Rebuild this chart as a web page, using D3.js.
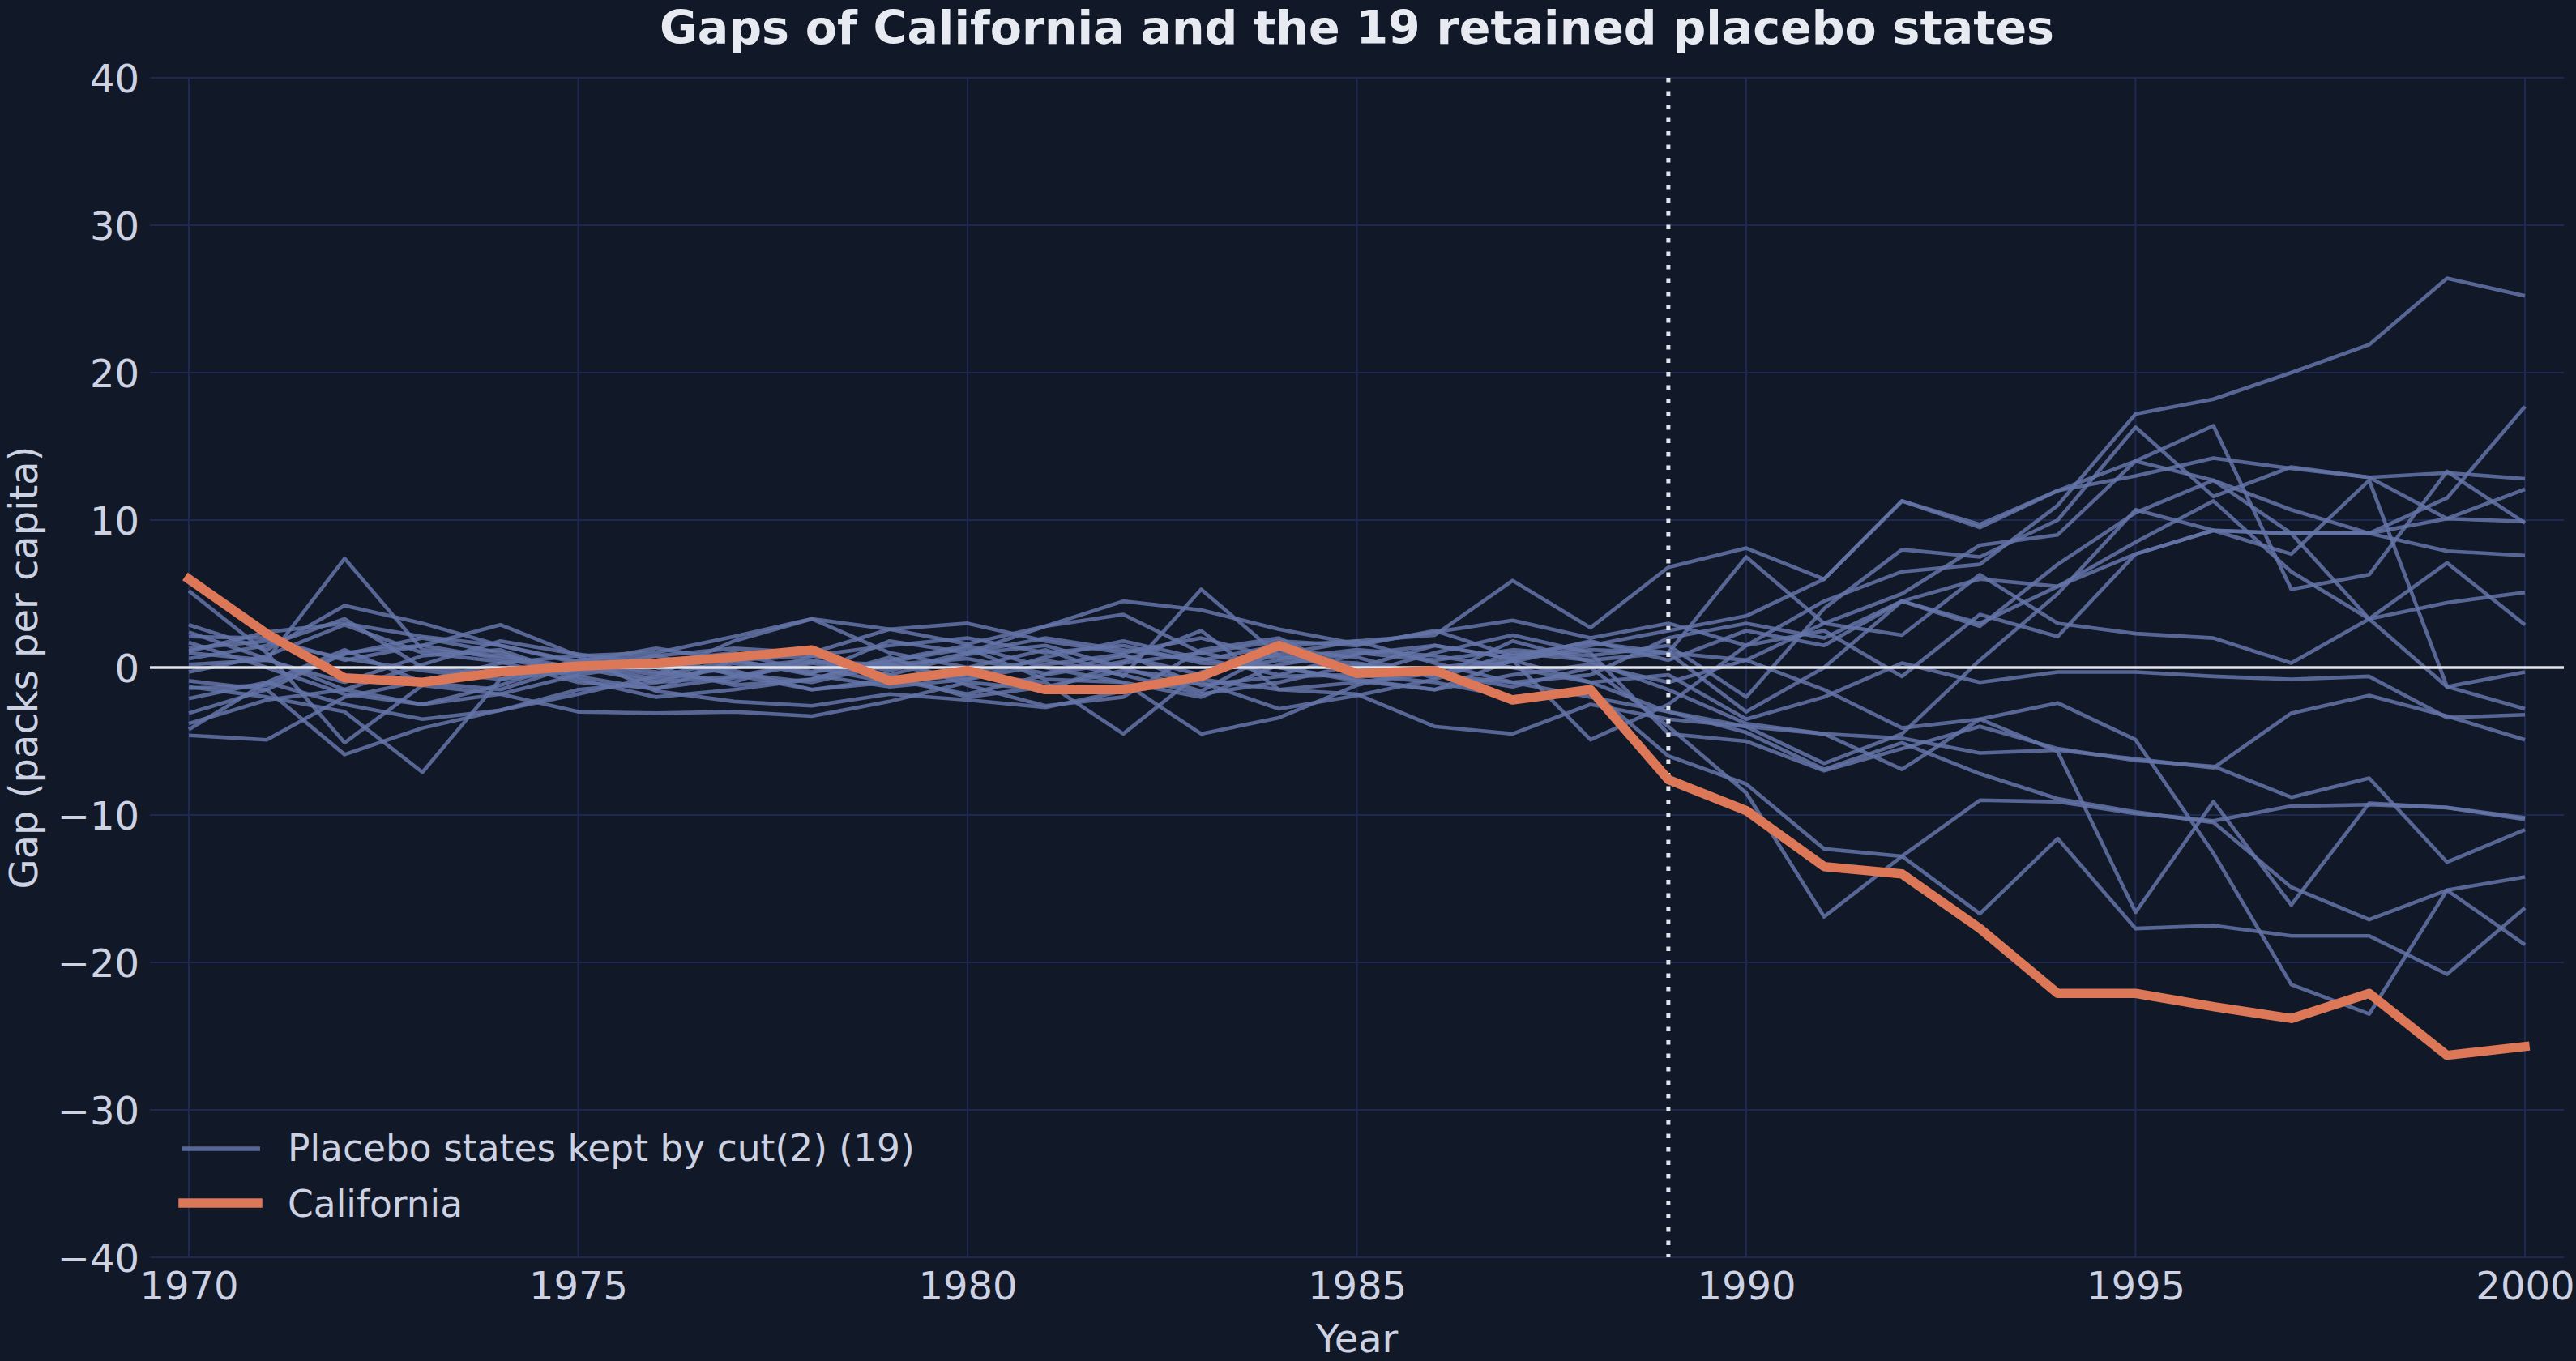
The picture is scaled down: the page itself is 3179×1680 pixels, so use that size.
<!DOCTYPE html>
<html><head><meta charset="utf-8">
<script src="https://cdn.jsdelivr.net/npm/d3@7"></script>
<style>html,body{margin:0;padding:0;background:#111827;}svg{display:block;}</style>
</head><body><svg id="chart" width="3179" height="1680"></svg>
<script>
const years = d3.range(1970, 2001);
const treatmentYear = 1989;
const xTicks = [1970, 1975, 1980, 1985, 1990, 1995, 2000];
const yTicks = [-40, -30, -20, -10, 0, 10, 20, 30, 40];
const titleText = "Gaps of California and the 19 retained placebo states";
const xLabel = "Year";
const yLabel = "Gap (packs per capita)";
const legendLabels = ["Placebo states kept by cut(2) (19)", "California"];

const california = [6.0, 2.3, -0.7, -1.0, -0.3, 0.1, 0.3, 0.7, 1.2, -0.9, -0.2, -1.5, -1.5, -0.6, 1.5, -0.4, -0.2, -2.2, -1.5, -7.6, -9.7, -13.5, -14.0, -17.7, -22.1, -22.1, -23.0, -23.8, -22.1, -26.3, -25.7];

const p01 = [2.9, 1.2, 4.2, 3.0, 1.5, 0.3, -0.5, 1.8, 3.3, 2.6, 1.6, 2.8, 4.5, 3.9, 2.6, 1.6, 2.4, 3.2, 2.0, 3.0, 1.5, 4.5, 6.5, 7.0, 11.0, 17.2, 18.2, 20.0, 21.9, 26.4, 25.2];
const p02 = [1.0, 0.5, -1.0, 0.8, 1.2, -0.6, -1.5, 0.5, 0.8, -0.2, 1.0, 2.0, 1.2, 0.5, 1.5, 1.8, 2.2, 5.9, 2.7, 6.8, 8.1, 6.0, 11.3, 9.7, 12.0, 13.0, 14.2, 13.5, 12.9, 13.2, 12.8];
const p03 = [0.2, 0.5, 7.4, 1.2, 0.8, 0.0, -1.0, -0.6, 0.4, 0.2, -0.8, 0.7, 1.8, 0.6, -0.5, 0.9, 1.5, 0.6, 1.2, 1.0, 7.5, 3.0, 5.0, 8.3, 9.0, 14.0, 16.4, 5.3, 6.3, 13.3, 9.8];
const p04 = [-1.3, -2.0, -3.0, -7.1, -0.8, 0.5, 0.0, -1.2, -0.8, 0.5, 1.5, 0.0, -1.0, -2.0, 0.2, 1.0, 0.5, 1.2, 0.8, 1.5, -2.0, 4.0, 8.0, 7.5, 10.0, 16.3, 11.6, 13.6, 12.9, 10.1, 12.1];
const p05 = [-0.9, -1.5, -5.9, -4.1, -2.9, -1.5, -1.0, 0.3, 0.0, -1.0, -0.3, 0.5, -0.5, -1.8, -1.0, 0.2, -0.4, 0.4, 1.5, 2.5, 3.5, 6.0, 11.3, 9.5, 12.0, 14.0, 12.7, 9.1, 9.1, 11.5, 17.7];
const p06 = [5.2, 1.0, -5.1, -1.2, -1.8, -0.5, 0.3, -0.4, -1.0, 0.2, 0.6, -0.4, 0.8, -0.5, 0.9, 1.8, 0.3, -1.0, -0.5, 2.0, 3.0, 2.0, 4.5, 2.8, 7.0, 10.5, 12.7, 10.7, 9.1, 7.9, 7.6];
const p07 = [-4.6, -4.9, -2.0, -0.9, 0.3, 0.8, -1.6, -2.3, -2.6, -1.8, -2.2, -2.7, -1.6, -1.0, -2.8, -1.9, -0.8, 1.0, 0.5, 1.0, -3.0, 0.0, 4.5, 6.0, 5.5, 8.5, 11.3, 6.5, 3.3, 4.4, 5.1];
const p08 = [-3.8, -2.2, -1.5, -2.5, -1.8, -3.0, -3.1, -3.0, -3.3, -2.3, -1.0, -1.5, 0.3, 1.0, 0.0, -0.8, -1.5, -0.5, 0.2, -1.0, 0.5, 3.0, 2.2, 6.3, 3.0, 2.3, 2.0, 0.3, 3.3, 7.1, 2.9];
const p09 = [2.1, 2.0, 0.5, 1.5, 2.9, 0.8, 1.0, 2.1, 3.3, 1.0, 0.0, 1.2, -0.6, 5.3, 0.8, 0.0, 1.5, 0.6, 1.8, 0.5, 2.5, 1.5, 4.5, 3.0, 5.5, 7.7, 9.3, 7.7, 12.7, -1.3, -0.3];
const p10 = [1.7, 0.0, -1.8, -2.5, -1.2, 0.5, 0.8, -0.5, -1.5, -1.0, -0.5, -1.0, -4.5, -0.3, 0.5, 0.3, -0.5, -1.0, -2.0, -3.0, -4.0, -6.5, -4.5, 0.5, 5.0, 10.7, 9.3, 9.1, 3.3, -1.3, -2.8];
const p11 = [1.3, 1.8, 0.6, -0.2, -0.8, -0.2, 0.4, 1.0, -0.3, 0.4, 1.3, -0.8, -1.0, -4.5, -3.4, -1.2, 0.0, 0.5, -1.0, -0.5, -3.5, -2.0, 0.3, -1.0, -0.3, -0.3, -0.6, -0.8, -0.6, -3.4, -3.2];
const p12 = [-2.1, -1.0, 1.2, -1.0, -1.5, 0.2, -0.8, 0.0, 0.5, -0.5, -2.0, -1.3, -0.2, -0.8, -1.5, -1.8, -4.0, -4.5, -2.5, -3.5, -4.0, -4.5, -4.8, -5.8, -5.6, -6.2, -6.8, -3.1, -1.9, -3.3, -4.9];
const p13 = [0.6, 1.5, 3.3, 0.0, -0.5, 0.4, -0.3, -1.0, 0.8, 1.5, 2.0, 1.0, 1.5, 0.3, 0.0, -0.9, -1.5, 0.5, -4.9, -2.5, 1.5, 2.5, -0.6, 3.6, 2.1, 7.7, 9.3, 9.1, 9.1, 10.1, 9.9];
const p14 = [-0.3, 0.8, 2.9, 1.0, 0.4, -1.0, -1.4, -0.7, 0.3, -0.5, 0.9, 1.5, 0.0, -1.6, 1.2, 0.7, -0.7, 1.8, 0.4, -1.5, -3.8, -4.5, -6.9, -3.5, -5.7, -16.6, -9.1, -16.1, -9.2, -9.5, -10.3];
const p15 = [-1.4, -1.2, 0.9, 2.0, 1.0, -0.8, -2.0, -1.5, -0.8, 0.7, -1.2, -2.6, -2.0, 1.2, 2.0, -0.5, 1.0, 2.2, 1.0, -4.5, -5.0, -7.0, -5.5, -4.0, -5.5, -6.3, -6.7, -8.8, -7.5, -13.2, -11.0];
const p16 = [-3.1, -1.5, 1.0, 1.5, 0.6, -0.3, 0.8, 1.3, 1.0, 2.6, 3.0, 1.8, 1.0, 2.0, 0.6, 1.2, 0.8, 0.0, -1.0, -3.0, -4.4, -6.9, -5.1, -7.2, -8.9, -9.8, -10.5, -14.9, -17.1, -15.1, -14.2];
const p17 = [1.1, 2.4, 3.0, 2.1, 1.5, 0.4, 1.3, 0.5, -0.4, 1.8, 1.0, 2.8, 3.6, 1.0, 1.8, 1.5, 2.5, 0.8, 1.7, 1.0, 0.5, -1.5, -4.1, -3.5, -2.4, -4.9, -12.6, -21.5, -23.5, -15.1, -18.8];
const p18 = [-4.2, -1.0, -2.5, -3.5, -2.9, -1.8, -0.6, 0.5, -0.5, -1.3, -0.8, 0.2, 0.9, -1.2, -0.6, -0.5, -1.0, -2.0, -1.5, -6.0, -7.9, -12.3, -12.8, -16.7, -11.6, -17.7, -17.5, -18.2, -18.2, -20.8, -16.3];
const p19 = [2.4, 0.6, -1.5, 0.2, 1.8, 0.9, 0.2, -0.2, -1.5, -0.8, -1.8, -0.5, 0.4, 2.5, -1.5, -1.0, -0.4, -1.3, 0.0, -4.0, -8.5, -16.9, -12.8, -9.0, -9.1, -9.9, -10.4, -9.4, -9.3, -9.5, -10.2];
const placebos = [p01, p02, p03, p04, p05, p06, p07, p08, p09, p10, p11, p12, p13, p14, p15, p16, p17, p18, p19];

const C = {bg: "#111827", grid: "#1d2950", text: "#cdd2e3", title: "#e8eaf2", zero: "#e2e5ee",
  placebo: "#6474a8", ca: "#dc7857"};

const svg = d3.select("#chart");
svg.append("rect").attr("width", 3179).attr("height", 1680).attr("fill", C.bg);

const x = d3.scaleLinear().domain([1969.5, 2000.5]).range([185, 3164]);
const y = d3.scaleLinear().domain([-40, 40]).range([1552, 96]);

// grid
const grid = svg.append("g");
grid.selectAll("line.h").data(yTicks).join("line")
  .attr("x1", x.range()[0]).attr("x2", x.range()[1])
  .attr("y1", d => y(d)).attr("y2", d => y(d))
  .attr("stroke", C.grid).attr("stroke-width", 2.2);
grid.selectAll("line.v").data(xTicks).join("line")
  .attr("x1", d => x(d)).attr("x2", d => x(d))
  .attr("y1", y.range()[0]).attr("y2", y.range()[1])
  .attr("stroke", C.grid).attr("stroke-width", 2.2);

// axes (labels only)
const yAxis = d3.axisLeft(y).tickValues(yTicks).tickSize(0).tickPadding(13)
  .tickFormat(d => (d < 0 ? "\u2212" + Math.abs(d) : String(d)));
const gy = svg.append("g").attr("transform", `translate(${x.range()[0]},0)`).call(yAxis);
gy.select(".domain").remove();
gy.selectAll("text").attr("fill", C.text).attr("font-family", "DejaVu Sans").attr("font-size", 48).attr("dy", "0.36em");

const xAxis = d3.axisBottom(x).tickValues(xTicks).tickSize(0).tickPadding(16).tickFormat(d3.format("d"));
const gx = svg.append("g").attr("transform", `translate(0,${y.range()[0]})`).call(xAxis);
gx.select(".domain").remove();
gx.selectAll("text").attr("fill", C.text).attr("font-family", "DejaVu Sans").attr("font-size", 48).attr("dy", "0.76em");

const line = d3.line().x((d, i) => x(years[i])).y(d => y(d));

// placebo lines
svg.append("g").selectAll("path").data(placebos).join("path")
  .attr("d", line).attr("fill", "none").attr("stroke", C.placebo)
  .attr("stroke-opacity", 0.85).attr("stroke-width", 4.6).attr("stroke-linejoin", "round");

// zero line
svg.append("line").attr("x1", x.range()[0]).attr("x2", x.range()[1])
  .attr("y1", y(0)).attr("y2", y(0)).attr("stroke", C.zero).attr("stroke-width", 3.5);

// treatment line
svg.append("line").attr("x1", x(treatmentYear)).attr("x2", x(treatmentYear))
  .attr("y1", y.range()[1]).attr("y2", y.range()[0])
  .attr("stroke", C.zero).attr("stroke-width", 5).attr("stroke-dasharray", "5.5,11");

// California
svg.append("path").datum(california).attr("d", line).attr("fill", "none")
  .attr("stroke", C.ca).attr("stroke-width", 11.5).attr("stroke-linejoin", "round").attr("stroke-linecap", "square");

// title & labels
svg.append("text").attr("x", 1674.5).attr("y", 54).attr("text-anchor", "middle")
  .attr("font-family", "DejaVu Sans").attr("font-weight", "bold").attr("font-size", 57)
  .attr("fill", C.title).text(titleText);
svg.append("text").attr("x", 1674.5).attr("y", 1669).attr("text-anchor", "middle")
  .attr("font-family", "DejaVu Sans").attr("font-size", 48).attr("fill", C.text).text(xLabel);
svg.append("text").attr("transform", "translate(46,824) rotate(-90)").attr("text-anchor", "middle")
  .attr("font-family", "DejaVu Sans").attr("font-size", 48).attr("fill", C.text).text(yLabel);

// legend
const leg = svg.append("g");
leg.append("line").attr("x1", 224).attr("x2", 321).attr("y1", 1418).attr("y2", 1418)
  .attr("stroke", C.placebo).attr("stroke-opacity", 0.85).attr("stroke-width", 5.5);
leg.append("line").attr("x1", 226).attr("x2", 318).attr("y1", 1485).attr("y2", 1485)
  .attr("stroke", C.ca).attr("stroke-width", 11.5).attr("stroke-linecap", "square");
leg.selectAll("text").data(legendLabels).join("text")
  .attr("x", 355).attr("y", (d, i) => 1433 + i * 69)
  .attr("font-family", "DejaVu Sans").attr("font-size", 45.5).attr("fill", C.text).text(d => d);
</script></body></html>
